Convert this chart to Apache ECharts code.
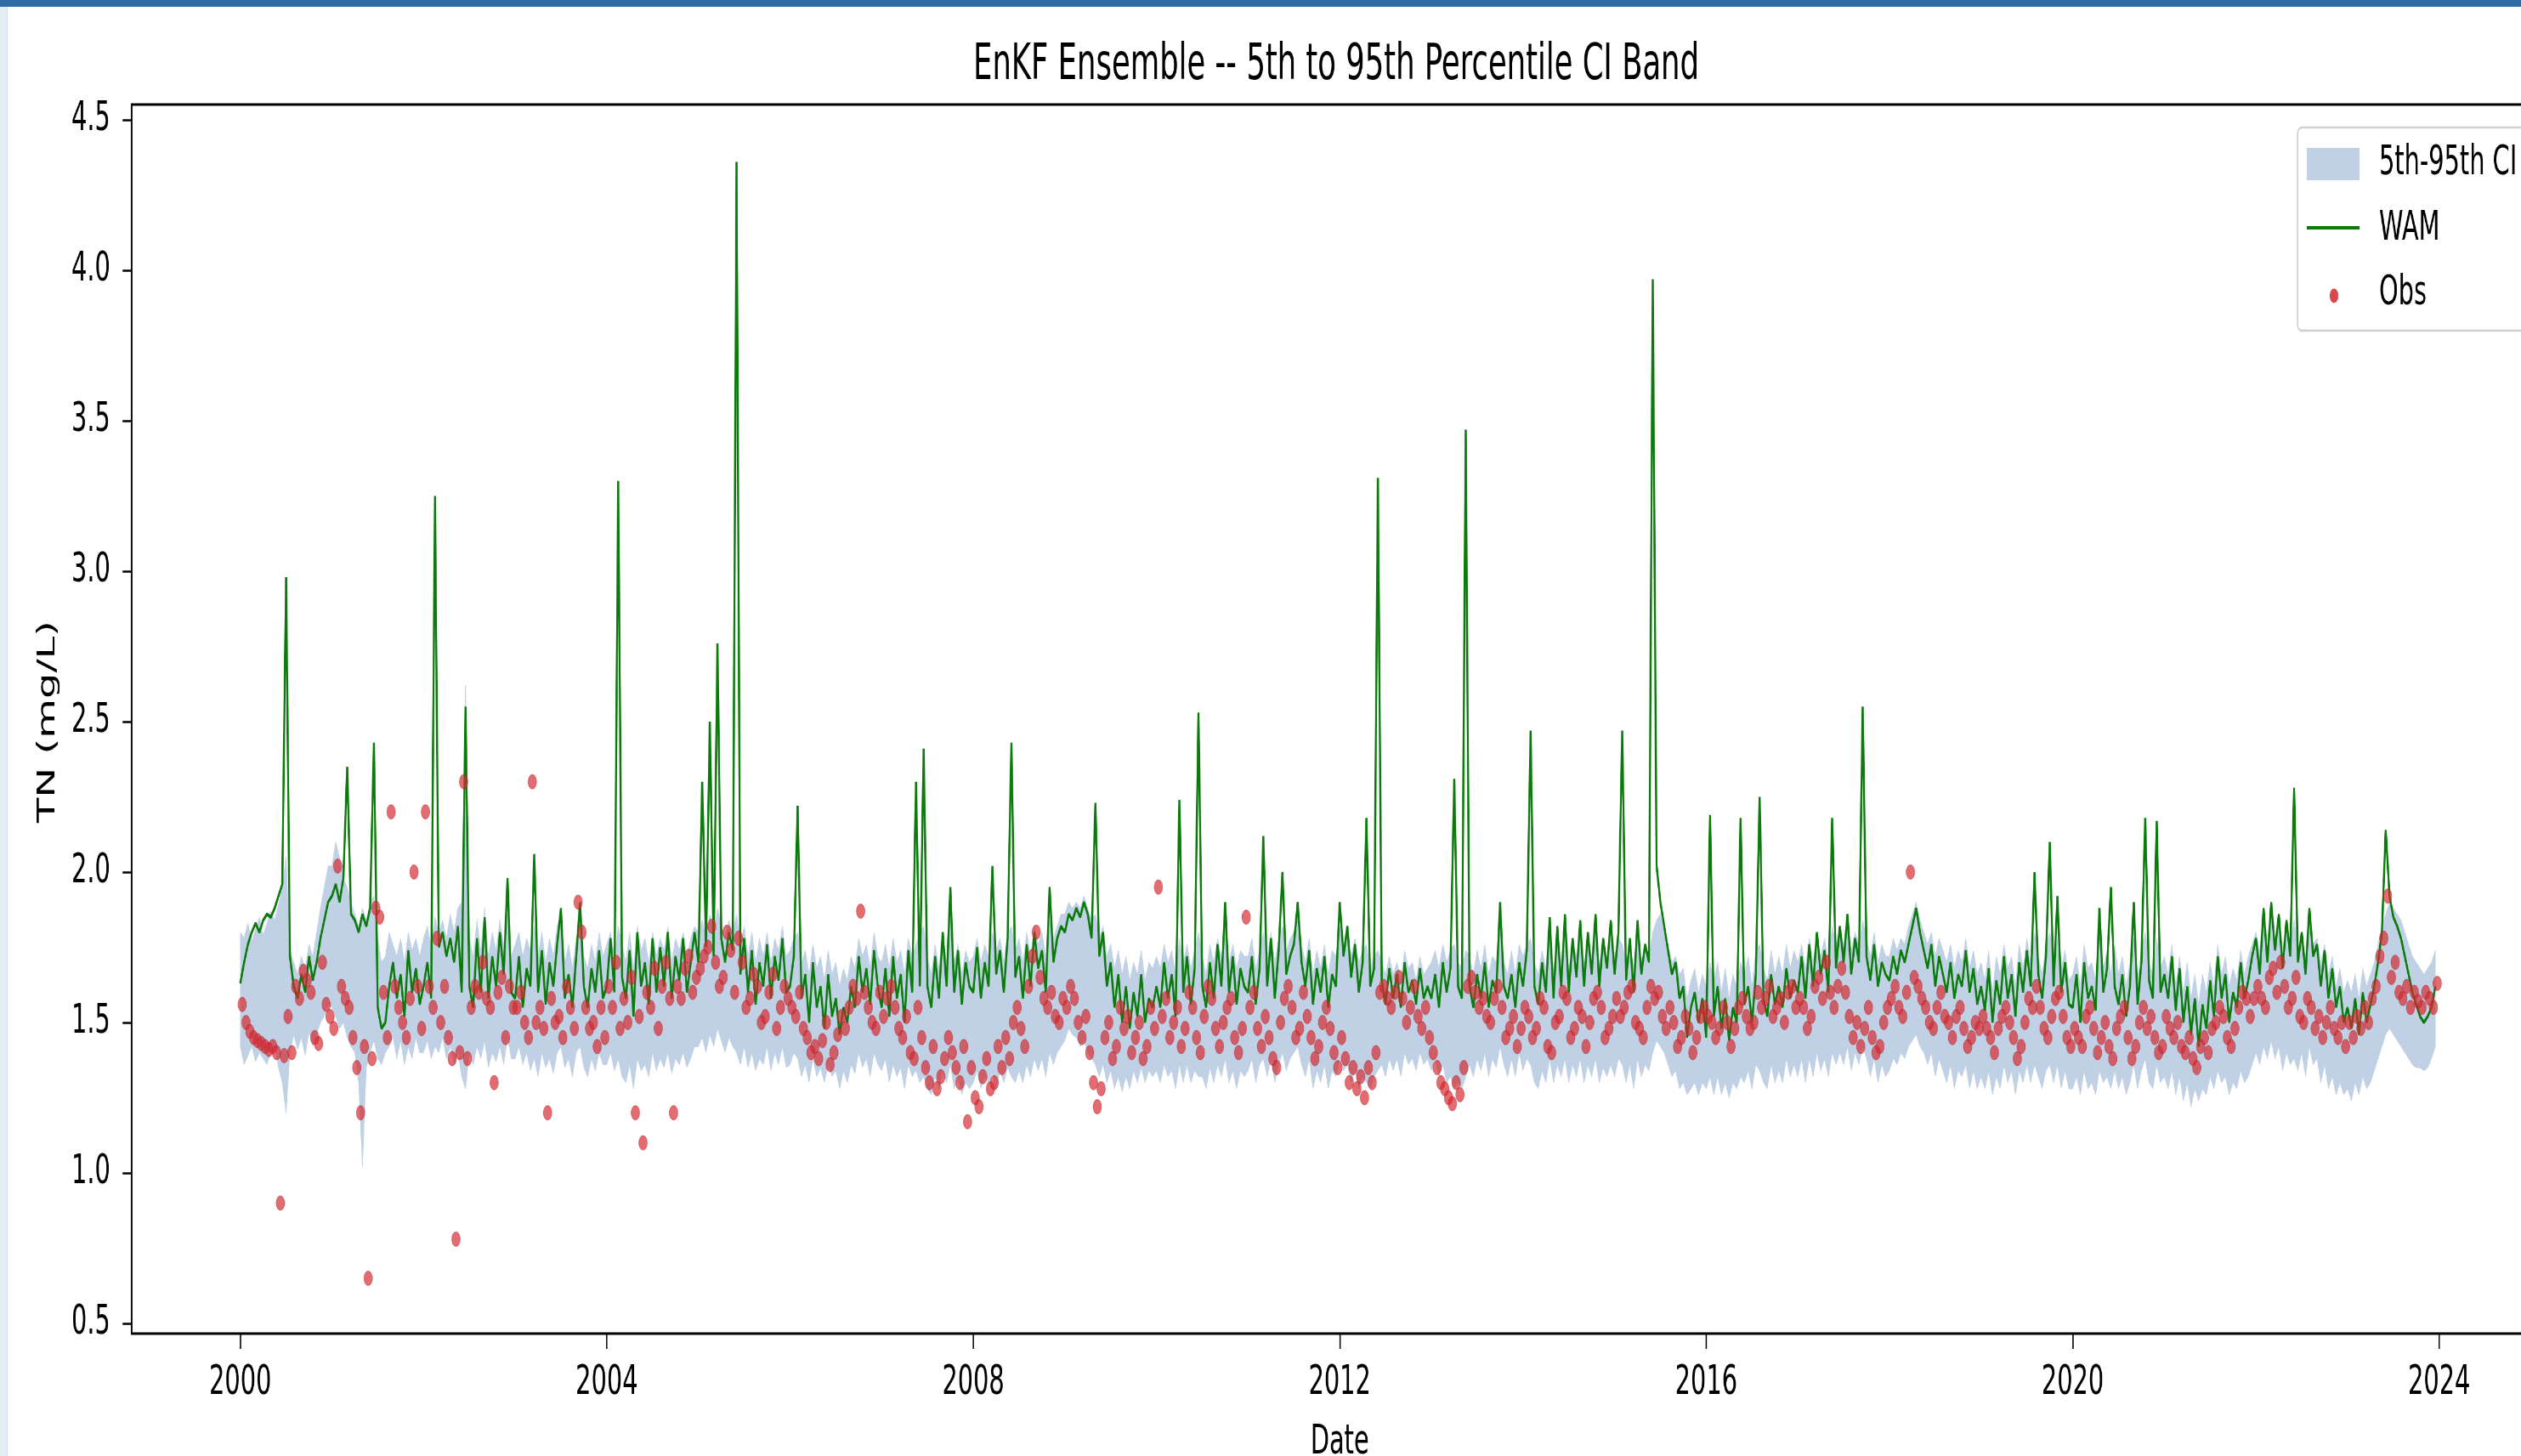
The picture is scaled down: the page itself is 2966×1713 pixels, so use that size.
<!DOCTYPE html>
<html>
<head>
<meta charset="utf-8">
<script src="https://cdn.jsdelivr.net/npm/echarts@6/dist/echarts.min.js"></script>
<style>
html,body{margin:0;padding:0;overflow:hidden;background:#fff;width:2966px;height:1713px;}
#topbar{position:absolute;left:0;top:0;width:2966px;height:8px;background:#2e6aa3;z-index:5;}
#leftbar{position:absolute;left:0;top:8px;width:8px;height:1705px;background:#e5ecf5;border-right:1px solid #d3deeb;z-index:5;}
#chart{position:absolute;left:0;top:0;width:4943px;height:1713px;transform:scaleX(0.600040);transform-origin:0 0;}
</style>
</head>
<body>
<div id="chart"></div><div id="topbar"></div><div id="leftbar"></div>
<script>
// ---- data (24 samples per year, 2000..2023) ----
const startYear = 2000;
const samplesPerYear = 24;
const xTicks = [2000, 2004, 2008, 2012, 2016, 2020, 2024];
const yTicks = [0.5, 1.0, 1.5, 2.0, 2.5, 3.0, 3.5, 4.0, 4.5];

const wam = [
1.63,1.70,1.76,1.80,1.83,1.80,1.84,1.86,1.85,1.88,1.92,1.96,2.98,1.72,1.62,1.58,1.66,1.60,1.72,1.64,1.70,1.78,1.84,1.90,
1.92,1.96,1.90,1.98,2.35,1.86,1.84,1.80,1.86,1.82,1.88,2.43,1.55,1.48,1.50,1.62,1.70,1.58,1.66,1.52,1.74,1.60,1.68,1.56,
1.62,1.70,1.58,3.25,1.75,1.80,1.72,1.78,1.70,1.82,1.60,2.55,1.62,1.55,1.78,1.60,1.85,1.58,1.72,1.62,1.80,1.66,1.98,1.60,
1.58,1.72,1.55,1.68,1.62,2.06,1.60,1.74,1.56,1.70,1.62,1.76,1.88,1.58,1.66,1.55,1.72,1.90,1.62,1.55,1.68,1.60,1.74,1.58,
1.62,1.78,1.60,3.30,1.65,1.58,1.74,1.52,1.80,1.62,1.70,1.56,1.78,1.60,1.75,1.62,1.80,1.58,1.72,1.64,1.78,1.60,1.70,1.80,
1.70,2.30,1.75,2.50,1.72,2.76,1.78,1.70,1.80,1.74,4.36,1.66,1.78,1.60,1.74,1.56,1.70,1.62,1.76,1.58,1.72,1.64,1.78,1.60,
1.62,1.72,2.22,1.58,1.66,1.50,1.70,1.55,1.62,1.48,1.66,1.52,1.58,1.46,1.55,1.50,1.62,1.55,1.72,1.60,1.68,1.56,1.74,1.62,
1.55,1.68,1.52,1.72,1.58,1.66,1.50,1.74,1.60,2.30,1.62,2.41,1.62,1.55,1.72,1.58,1.80,1.62,1.95,1.60,1.74,1.56,1.70,1.62,
1.60,1.75,1.58,1.70,1.62,2.02,1.66,1.74,1.60,1.78,2.43,1.65,1.72,1.58,1.76,1.62,1.80,1.68,1.74,1.60,1.95,1.70,1.78,1.82,
1.80,1.86,1.84,1.88,1.85,1.90,1.86,1.78,2.23,1.72,1.80,1.62,1.70,1.55,1.66,1.50,1.62,1.48,1.60,1.52,1.66,1.50,1.58,1.55,
1.62,1.55,1.70,1.58,1.66,1.52,2.24,1.60,1.72,1.56,1.68,2.53,1.62,1.55,1.70,1.58,1.76,1.62,1.90,1.60,1.72,1.56,1.68,1.62,
1.60,1.72,1.56,1.68,2.12,1.62,1.78,1.58,1.74,2.00,1.66,1.72,1.76,1.90,1.70,1.62,1.74,1.56,1.68,1.60,1.72,1.55,1.66,1.62,
1.90,1.72,1.82,1.65,1.76,1.60,1.70,2.18,1.62,1.68,3.31,1.64,1.56,1.68,1.58,1.66,1.55,1.70,1.60,1.64,1.56,1.68,1.58,1.62,
1.58,1.66,1.55,1.70,1.60,1.68,2.31,1.62,1.58,3.47,1.62,1.55,1.66,1.58,1.70,1.55,1.64,1.60,1.90,1.62,1.58,1.66,1.55,1.70,
1.62,1.74,2.47,1.62,1.56,1.70,1.60,1.85,1.58,1.82,1.62,1.86,1.60,1.78,1.65,1.84,1.62,1.80,1.66,1.86,1.62,1.78,1.68,1.84,
1.66,1.80,2.47,1.64,1.78,1.60,1.84,1.66,1.76,1.70,3.97,2.02,1.90,1.82,1.74,1.66,1.70,1.58,1.62,1.45,1.55,1.60,1.50,1.58,
1.45,2.19,1.52,1.62,1.48,1.58,1.44,1.55,1.50,2.18,1.56,1.62,1.50,1.66,2.25,1.58,1.52,1.66,1.56,1.62,1.55,1.68,1.58,1.64,
1.60,1.72,1.58,1.76,1.62,1.80,1.66,1.74,1.60,2.18,1.68,1.82,1.70,1.86,1.66,1.78,1.70,2.55,1.72,1.64,1.76,1.62,1.70,1.66,
1.64,1.72,1.66,1.74,1.70,1.76,1.82,1.88,1.80,1.74,1.68,1.76,1.62,1.72,1.66,1.60,1.70,1.58,1.66,1.62,1.74,1.60,1.68,1.56,
1.62,1.54,1.68,1.50,1.64,1.56,1.72,1.58,1.66,1.52,1.70,1.60,1.74,1.62,2.00,1.66,1.58,1.72,2.10,1.62,1.92,1.60,1.70,1.56,
1.55,1.66,1.50,1.70,1.58,1.62,1.54,1.88,1.60,1.68,1.95,1.62,1.56,1.66,1.52,1.62,1.90,1.56,1.70,2.18,1.64,1.58,2.17,1.60,
1.66,1.58,1.72,1.54,1.68,1.50,1.62,1.46,1.58,1.42,1.56,1.48,1.64,1.52,1.72,1.58,1.66,1.50,1.60,1.55,1.70,1.58,1.64,1.72,
1.78,1.66,1.88,1.70,1.90,1.74,1.86,1.68,1.84,1.72,2.28,1.70,1.80,1.66,1.88,1.72,1.76,1.62,1.74,1.58,1.68,1.55,1.62,1.50,
1.55,1.48,1.58,1.46,1.60,1.50,1.56,1.62,1.70,1.80,2.14,1.92,1.85,1.82,1.78,1.72,1.66,1.60,1.56,1.52,1.50,1.52,1.55,1.62
];

const ciUpper = [
1.80,1.78,1.83,1.77,1.81,1.85,1.79,1.83,1.87,1.84,1.89,1.95,2.05,1.74,1.70,1.66,1.72,1.68,1.76,1.72,1.80,1.88,1.95,2.02,
2.02,2.10,2.05,1.98,1.95,1.90,1.86,1.82,1.88,1.84,1.90,1.92,1.78,1.70,1.72,1.80,1.76,1.72,1.78,1.70,1.80,1.74,1.78,1.72,
1.78,1.82,1.75,1.85,1.80,1.84,1.78,1.86,1.80,1.88,1.90,2.62,1.78,1.72,1.84,1.74,1.88,1.72,1.80,1.74,1.84,1.76,1.86,1.72,
1.76,1.80,1.72,1.78,1.74,1.82,1.72,1.80,1.70,1.78,1.72,1.82,1.86,1.70,1.76,1.68,1.78,1.84,1.72,1.68,1.76,1.70,1.80,1.72,
1.76,1.80,1.72,1.82,1.76,1.70,1.80,1.68,1.82,1.74,1.78,1.70,1.80,1.72,1.78,1.74,1.82,1.70,1.78,1.74,1.80,1.72,1.78,1.82,
1.80,1.84,1.78,1.86,1.80,1.88,1.82,1.78,1.84,1.80,1.86,1.76,1.82,1.72,1.80,1.70,1.78,1.72,1.80,1.70,1.78,1.74,1.82,1.72,
1.74,1.78,1.80,1.70,1.74,1.66,1.76,1.68,1.72,1.64,1.74,1.66,1.70,1.62,1.68,1.64,1.72,1.68,1.78,1.72,1.76,1.68,1.80,1.72,
1.70,1.76,1.68,1.78,1.70,1.74,1.66,1.78,1.72,1.76,1.80,1.82,1.72,1.66,1.76,1.68,1.80,1.70,1.84,1.70,1.76,1.66,1.74,1.70,
1.72,1.78,1.70,1.76,1.72,1.80,1.74,1.78,1.70,1.80,1.82,1.74,1.78,1.70,1.80,1.72,1.82,1.76,1.80,1.72,1.84,1.78,1.82,1.86,
1.86,1.90,1.88,1.90,1.88,1.92,1.88,1.84,1.86,1.78,1.82,1.72,1.76,1.68,1.74,1.66,1.72,1.64,1.70,1.66,1.74,1.64,1.70,1.68,
1.72,1.68,1.76,1.70,1.74,1.66,1.78,1.70,1.76,1.68,1.74,1.80,1.72,1.66,1.76,1.70,1.78,1.72,1.82,1.70,1.76,1.68,1.74,1.72,
1.72,1.78,1.68,1.74,1.80,1.72,1.80,1.70,1.78,1.82,1.74,1.78,1.80,1.84,1.76,1.70,1.78,1.66,1.74,1.68,1.76,1.66,1.74,1.72,
1.82,1.76,1.80,1.72,1.78,1.70,1.74,1.76,1.68,1.72,1.74,1.70,1.66,1.72,1.66,1.70,1.64,1.74,1.68,1.70,1.64,1.72,1.66,1.68,
1.70,1.74,1.68,1.76,1.70,1.74,1.76,1.70,1.68,1.74,1.72,1.66,1.74,1.68,1.76,1.66,1.72,1.70,1.80,1.70,1.66,1.74,1.66,1.76,
1.72,1.76,1.78,1.70,1.66,1.74,1.68,1.78,1.68,1.76,1.70,1.80,1.68,1.76,1.72,1.78,1.70,1.76,1.72,1.80,1.70,1.76,1.72,1.78,
1.72,1.78,1.76,1.70,1.76,1.68,1.78,1.70,1.76,1.72,1.80,1.84,1.86,1.80,1.76,1.70,1.72,1.66,1.68,1.58,1.64,1.68,1.60,1.66,
1.62,1.70,1.64,1.70,1.60,1.68,1.58,1.66,1.62,1.70,1.66,1.72,1.62,1.74,1.76,1.68,1.64,1.74,1.66,1.72,1.66,1.76,1.68,1.74,
1.70,1.76,1.68,1.78,1.70,1.80,1.72,1.78,1.70,1.82,1.76,1.82,1.76,1.86,1.74,1.80,1.76,1.84,1.78,1.72,1.80,1.70,1.76,1.72,
1.72,1.78,1.74,1.78,1.76,1.82,1.86,1.90,1.84,1.80,1.76,1.80,1.72,1.78,1.74,1.70,1.76,1.68,1.74,1.70,1.78,1.68,1.74,1.66,
1.70,1.64,1.74,1.60,1.72,1.66,1.76,1.68,1.72,1.62,1.76,1.68,1.78,1.70,1.80,1.72,1.66,1.76,1.80,1.70,1.78,1.68,1.74,1.64,
1.66,1.72,1.62,1.76,1.68,1.70,1.64,1.78,1.68,1.74,1.66,1.76,1.66,1.72,1.62,1.70,1.78,1.64,1.74,1.80,1.70,1.66,1.78,1.68,
1.72,1.66,1.76,1.62,1.72,1.60,1.70,1.58,1.66,1.56,1.66,1.60,1.70,1.62,1.76,1.66,1.72,1.62,1.68,1.64,1.74,1.66,1.72,1.76,
1.80,1.74,1.84,1.76,1.86,1.78,1.84,1.74,1.82,1.76,1.84,1.74,1.80,1.72,1.84,1.76,1.78,1.70,1.76,1.66,1.72,1.62,1.68,1.60,
1.64,1.60,1.66,1.58,1.68,1.62,1.66,1.70,1.76,1.82,1.86,1.90,1.88,1.86,1.84,1.80,1.76,1.72,1.70,1.68,1.66,1.68,1.70,1.74
];

const ciLower = [
1.42,1.36,1.39,1.42,1.37,1.40,1.38,1.36,1.40,1.42,1.35,1.30,1.20,1.40,1.46,1.41,1.45,1.39,1.47,1.42,1.46,1.50,1.52,1.56,
1.55,1.52,1.48,1.50,1.45,1.42,1.40,1.30,1.02,1.35,1.40,1.44,1.38,1.36,1.40,1.42,1.45,1.38,1.44,1.36,1.42,1.38,1.45,1.40,
1.40,1.44,1.38,1.42,1.40,1.45,1.38,1.42,1.36,1.40,1.32,1.28,1.40,1.36,1.42,1.38,1.44,1.35,1.40,1.37,1.42,1.36,1.45,1.38,
1.38,1.42,1.36,1.40,1.34,1.38,1.32,1.40,1.35,1.38,1.33,1.40,1.42,1.35,1.38,1.32,1.40,1.42,1.35,1.32,1.38,1.34,1.40,1.36,
1.36,1.40,1.34,1.38,1.32,1.30,1.36,1.28,1.38,1.34,1.36,1.32,1.40,1.34,1.38,1.35,1.40,1.33,1.38,1.36,1.40,1.35,1.38,1.42,
1.42,1.45,1.40,1.46,1.42,1.48,1.44,1.40,1.45,1.42,1.40,1.36,1.42,1.35,1.40,1.34,1.38,1.36,1.42,1.34,1.40,1.36,1.42,1.35,
1.36,1.40,1.38,1.32,1.36,1.30,1.38,1.32,1.35,1.30,1.36,1.32,1.34,1.28,1.34,1.30,1.36,1.33,1.40,1.35,1.38,1.32,1.40,1.36,
1.34,1.38,1.30,1.36,1.32,1.35,1.28,1.36,1.32,1.34,1.30,1.32,1.28,1.26,1.32,1.28,1.34,1.30,1.36,1.28,1.32,1.26,1.30,1.28,
1.30,1.34,1.28,1.32,1.30,1.33,1.28,1.34,1.30,1.35,1.32,1.30,1.34,1.30,1.36,1.32,1.38,1.34,1.38,1.32,1.40,1.36,1.40,1.42,
1.44,1.48,1.46,1.45,1.42,1.44,1.40,1.38,1.36,1.32,1.36,1.30,1.34,1.28,1.32,1.27,1.32,1.28,1.34,1.30,1.35,1.30,1.34,1.32,
1.34,1.30,1.36,1.32,1.34,1.28,1.36,1.30,1.36,1.30,1.34,1.32,1.32,1.28,1.35,1.30,1.36,1.32,1.38,1.30,1.34,1.28,1.34,1.32,
1.34,1.38,1.30,1.36,1.38,1.32,1.38,1.30,1.36,1.40,1.34,1.38,1.40,1.42,1.36,1.32,1.38,1.28,1.34,1.30,1.36,1.28,1.34,1.32,
1.38,1.34,1.36,1.30,1.34,1.28,1.32,1.30,1.28,1.32,1.34,1.36,1.32,1.38,1.34,1.38,1.32,1.40,1.36,1.38,1.34,1.40,1.36,1.38,
1.34,1.38,1.32,1.36,1.30,1.32,1.28,1.30,1.28,1.32,1.36,1.32,1.38,1.34,1.40,1.32,1.38,1.35,1.42,1.36,1.32,1.38,1.32,1.40,
1.34,1.38,1.36,1.30,1.28,1.34,1.30,1.38,1.30,1.36,1.32,1.38,1.30,1.36,1.32,1.38,1.30,1.36,1.32,1.38,1.30,1.35,1.32,1.36,
1.32,1.38,1.36,1.30,1.36,1.28,1.38,1.32,1.36,1.34,1.40,1.44,1.42,1.40,1.36,1.32,1.34,1.28,1.30,1.26,1.28,1.30,1.26,1.30,
1.28,1.32,1.26,1.32,1.26,1.30,1.25,1.30,1.28,1.32,1.30,1.34,1.28,1.36,1.34,1.30,1.28,1.36,1.30,1.34,1.30,1.38,1.32,1.36,
1.32,1.38,1.30,1.38,1.32,1.40,1.34,1.38,1.32,1.40,1.36,1.40,1.36,1.42,1.34,1.40,1.36,1.42,1.38,1.32,1.38,1.30,1.36,1.32,
1.34,1.38,1.36,1.40,1.38,1.42,1.44,1.46,1.42,1.40,1.36,1.40,1.32,1.38,1.34,1.30,1.36,1.28,1.34,1.32,1.36,1.28,1.34,1.28,
1.32,1.28,1.34,1.26,1.32,1.28,1.36,1.30,1.34,1.26,1.34,1.30,1.36,1.30,1.36,1.32,1.28,1.34,1.36,1.30,1.36,1.28,1.34,1.28,
1.28,1.32,1.26,1.34,1.28,1.30,1.26,1.34,1.30,1.32,1.28,1.34,1.28,1.32,1.26,1.30,1.36,1.28,1.34,1.38,1.30,1.28,1.36,1.30,
1.32,1.28,1.34,1.26,1.32,1.24,1.30,1.22,1.28,1.24,1.28,1.26,1.32,1.28,1.34,1.30,1.32,1.26,1.30,1.28,1.34,1.30,1.32,1.36,
1.40,1.36,1.42,1.38,1.44,1.38,1.42,1.34,1.40,1.36,1.38,1.34,1.40,1.32,1.42,1.36,1.38,1.30,1.36,1.28,1.32,1.26,1.30,1.26,
1.28,1.24,1.30,1.26,1.32,1.28,1.30,1.34,1.38,1.42,1.46,1.48,1.46,1.44,1.42,1.40,1.38,1.36,1.35,1.35,1.34,1.35,1.38,1.42
];

const obs = [
1.56,1.50,1.47,1.45,1.44,1.43,1.42,1.41,1.42,1.40,0.90,1.39,1.52,1.40,1.62,1.58,1.67,1.64,1.60,1.45,1.43,1.70,1.56,1.52,
1.48,2.02,1.62,1.58,1.55,1.45,1.35,1.20,1.42,0.65,1.38,1.88,1.85,1.60,1.45,2.20,1.62,1.55,1.50,1.45,1.58,2.00,1.62,1.48,
2.20,1.62,1.55,1.78,1.50,1.62,1.45,1.38,0.78,1.40,2.30,1.38,1.55,1.62,1.60,1.70,1.58,1.55,1.30,1.60,1.65,1.45,1.62,1.55,
1.55,1.60,1.50,1.45,2.30,1.50,1.55,1.48,1.20,1.58,1.50,1.52,1.45,1.62,1.55,1.48,1.90,1.80,1.55,1.48,1.50,1.42,1.55,1.45,
1.62,1.55,1.70,1.48,1.58,1.50,1.65,1.20,1.52,1.10,1.60,1.55,1.68,1.48,1.62,1.70,1.58,1.20,1.62,1.58,1.68,1.72,1.60,1.65,
1.68,1.72,1.75,1.82,1.70,1.62,1.65,1.80,1.74,1.60,1.78,1.70,1.55,1.58,1.66,1.62,1.50,1.52,1.60,1.66,1.48,1.55,1.62,1.58,
1.55,1.52,1.60,1.48,1.45,1.40,1.42,1.38,1.44,1.50,1.36,1.40,1.46,1.52,1.48,1.55,1.62,1.58,1.87,1.60,1.55,1.50,1.48,1.60,
1.52,1.58,1.62,1.55,1.48,1.45,1.52,1.40,1.38,1.55,1.45,1.35,1.30,1.42,1.28,1.32,1.38,1.45,1.40,1.35,1.30,1.42,1.17,1.35,
1.25,1.22,1.32,1.38,1.28,1.30,1.42,1.35,1.45,1.38,1.50,1.55,1.48,1.42,1.62,1.72,1.80,1.65,1.58,1.55,1.60,1.52,1.50,1.58,
1.55,1.62,1.58,1.50,1.45,1.52,1.40,1.30,1.22,1.28,1.45,1.50,1.38,1.42,1.55,1.48,1.52,1.40,1.45,1.50,1.38,1.42,1.55,1.48,
1.95,1.52,1.58,1.45,1.50,1.55,1.42,1.48,1.60,1.55,1.45,1.40,1.52,1.62,1.58,1.48,1.42,1.50,1.55,1.58,1.45,1.40,1.48,1.85,
1.55,1.60,1.48,1.42,1.52,1.45,1.38,1.35,1.50,1.58,1.62,1.55,1.45,1.48,1.60,1.52,1.45,1.38,1.42,1.50,1.55,1.48,1.40,1.35,
1.45,1.38,1.30,1.35,1.28,1.32,1.25,1.35,1.30,1.40,1.60,1.62,1.58,1.55,1.60,1.65,1.58,1.50,1.55,1.62,1.52,1.48,1.55,1.45,
1.40,1.35,1.30,1.28,1.25,1.23,1.30,1.26,1.35,1.62,1.65,1.60,1.55,1.58,1.52,1.50,1.58,1.62,1.55,1.45,1.48,1.52,1.42,1.48,
1.55,1.52,1.45,1.48,1.58,1.55,1.42,1.40,1.50,1.52,1.60,1.58,1.45,1.48,1.55,1.52,1.42,1.50,1.58,1.60,1.55,1.45,1.48,1.52,
1.58,1.52,1.55,1.60,1.62,1.50,1.48,1.45,1.55,1.62,1.58,1.60,1.52,1.48,1.55,1.50,1.42,1.45,1.52,1.48,1.40,1.45,1.52,1.55,
1.52,1.50,1.45,1.48,1.55,1.50,1.42,1.48,1.55,1.58,1.52,1.48,1.50,1.60,1.55,1.58,1.62,1.52,1.55,1.58,1.50,1.60,1.62,1.55,
1.58,1.55,1.48,1.52,1.62,1.65,1.58,1.70,1.60,1.55,1.62,1.68,1.60,1.52,1.45,1.50,1.42,1.48,1.55,1.45,1.40,1.42,1.50,1.55,
1.58,1.62,1.55,1.52,1.60,2.00,1.65,1.62,1.58,1.55,1.50,1.48,1.55,1.60,1.52,1.50,1.45,1.52,1.55,1.48,1.42,1.45,1.50,1.48,
1.52,1.48,1.45,1.40,1.48,1.52,1.55,1.50,1.45,1.38,1.42,1.50,1.58,1.55,1.62,1.55,1.48,1.45,1.52,1.58,1.60,1.52,1.45,1.42,
1.48,1.45,1.42,1.52,1.55,1.48,1.40,1.45,1.50,1.42,1.38,1.48,1.52,1.55,1.45,1.38,1.42,1.50,1.55,1.48,1.52,1.45,1.40,1.42,
1.52,1.48,1.45,1.50,1.42,1.40,1.45,1.38,1.35,1.42,1.45,1.40,1.48,1.50,1.55,1.52,1.45,1.42,1.48,1.55,1.60,1.58,1.52,1.58,
1.62,1.58,1.55,1.65,1.68,1.60,1.70,1.62,1.55,1.58,1.65,1.52,1.50,1.58,1.55,1.48,1.52,1.45,1.50,1.55,1.48,1.45,1.50,1.42,
1.50,1.45,1.52,1.48,1.55,1.50,1.58,1.62,1.72,1.78,1.92,1.65,1.70,1.60,1.58,1.62,1.55,1.60,1.57,1.55,1.60,1.58,1.55,1.63
];

// ---- layout helpers (reference is horizontally compressed; canvas is drawn wide then scaled) ----
const W0 = 4943, H0 = 1713;
const K = 2966 / W0;
const px = x => x / K;

const tOf = (i, shift) => startYear + (i + shift) / samplesPerYear;
const wamData = wam.map((v, i) => [tOf(i, 0), v]);
const bandData = ciUpper.map((v, i) => [tOf(i, 0), v, ciLower[i]]);
const obsData = obs.map((v, i) => [tOf(i, 0.5), v]);

const FONT = '"DejaVu Sans", "Liberation Sans", sans-serif';
const BAND = '#c1d1e5';
const GREEN = '#0a7a0a';
const RED = 'rgba(212,40,46,0.85)';
const gridLeft = px(282.7), gridRightX = px(2869.7);
const spineLeft = px(155);

function renderBand(params, api) {
  if (params.dataIndex !== 0) return null;
  const pts = [];
  for (let i = 0; i < bandData.length; i++) pts.push(api.coord([bandData[i][0], bandData[i][1]]));
  for (let i = bandData.length - 1; i >= 0; i--) pts.push(api.coord([bandData[i][0], bandData[i][2]]));
  return {type: 'polygon', shape: {points: pts}, style: {fill: BAND, stroke: BAND, lineWidth: 1}};
}

const chart = echarts.init(document.getElementById('chart'), null, {renderer: 'canvas', width: W0, height: H0});

chart.setOption({
  animation: false,
  backgroundColor: '#ffffff',
  grid: {left: gridLeft, right: W0 - gridRightX, top: 141, bottom: H0 - 1557,
         containLabel: false, outerBoundsMode: 'none'},
  xAxis: {
    type: 'value', min: xTicks[0], max: xTicks[xTicks.length - 1], interval: 4,
    offset: 12,
    axisLine: {show: false},
    axisTick: {show: true, length: 18, lineStyle: {color: '#000', width: 2.5}},
    axisLabel: {fontSize: 48, fontFamily: FONT, color: '#000', margin: 35, formatter: v => String(v)},
    splitLine: {show: false},
    name: 'Date', nameLocation: 'middle', nameGap: 105,
    nameTextStyle: {fontSize: 48, fontFamily: FONT, color: '#000'}
  },
  yAxis: {
    type: 'value', min: yTicks[0], max: yTicks[yTicks.length - 1], interval: 0.5,
    offset: gridLeft - spineLeft,
    axisLine: {show: false},
    axisTick: {show: true, length: 18, lineStyle: {color: '#000', width: 2.5}},
    axisLabel: {fontSize: 48, fontFamily: FONT, color: '#000', margin: 42, formatter: v => v.toFixed(1)},
    splitLine: {show: false},
    name: 'TN (mg/L)', nameLocation: 'middle', nameGap: 140,
    nameTextStyle: {fontSize: 48, fontFamily: FONT, color: '#000'}
  },
  series: [
    {name: '5th-95th CI', type: 'custom', data: bandData, renderItem: renderBand,
     encode: {x: 0, y: [1, 2]}, silent: true, z: 1},
    {name: 'WAM', type: 'line', data: wamData, symbol: 'none',
     lineStyle: {color: GREEN, width: 4}, z: 2},
    {name: 'Obs', type: 'scatter', data: obsData, symbolSize: 17,
     itemStyle: {color: RED, borderColor: 'rgba(170,30,35,0.6)', borderWidth: 1}, z: 3}
  ],
  graphic: [
    {type: 'text', x: px(1572), y: 78, z: 20,
     style: {text: 'EnKF Ensemble -- 5th to 95th Percentile CI Band', fontSize: 59, fontFamily: FONT,
             fill: '#000', align: 'center', verticalAlign: 'middle'}},
    {type: 'rect', z: 15, silent: true,
     shape: {x: spineLeft, y: 123, width: W0 + 200 - spineLeft, height: 1569 - 123},
     style: {fill: 'none', stroke: '#000', lineWidth: 3}},
    {type: 'group', z: 20, children: [
      {type: 'rect', shape: {x: px(2703), y: 150, width: 800, height: 239, r: 8},
       style: {fill: 'rgba(255,255,255,0.85)', stroke: '#cfcfcf', lineWidth: 2.5}},
      {type: 'rect', shape: {x: px(2714), y: 174, width: px(2776) - px(2714), height: 38},
       style: {fill: BAND}},
      {type: 'line', shape: {x1: px(2714), y1: 268, x2: px(2776), y2: 268},
       style: {stroke: GREEN, lineWidth: 4}},
      {type: 'circle', shape: {cx: px(2746), cy: 348, r: 8.5},
       style: {fill: RED}},
      {type: 'text', x: px(2799), y: 193,
       style: {text: '5th-95th CI', fontSize: 48, fontFamily: FONT, fill: '#000', verticalAlign: 'middle'}},
      {type: 'text', x: px(2799), y: 270,
       style: {text: 'WAM', fontSize: 48, fontFamily: FONT, fill: '#000', verticalAlign: 'middle'}},
      {type: 'text', x: px(2799), y: 346,
       style: {text: 'Obs', fontSize: 48, fontFamily: FONT, fill: '#000', verticalAlign: 'middle'}}
    ]}
  ]
});
</script>
</body>
</html>
